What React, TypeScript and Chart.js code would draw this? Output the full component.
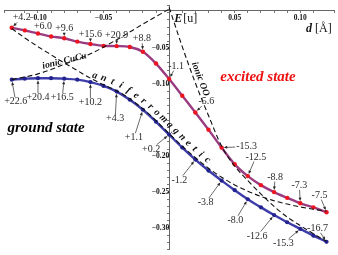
import React, { useEffect, useRef } from 'react';
import { Chart, registerables } from 'chart.js';

Chart.register(...registerables);

// ---- data ----
const dGrid = [-0.12, -0.11, -0.10, -0.09, -0.08, -0.07, -0.06, -0.05, -0.04, -0.03, -0.02, -0.01, 0, 0.01, 0.02, 0.03, 0.04, 0.05, 0.06, 0.07, 0.08, 0.09, 0.10, 0.11, 0.12];

const excitedE = [-0.0211, -0.0247, -0.0291, -0.0331, -0.0357, -0.0403, -0.0437, -0.0462, -0.0466, -0.0478, -0.0545, -0.0709, -0.0925, -0.1157, -0.139, -0.163, -0.188, -0.2113, -0.2277, -0.2403, -0.25, -0.258, -0.2656, -0.2713, -0.278];

const groundE = [-0.0933, -0.092, -0.0913, -0.0913, -0.092, -0.0933, -0.0967, -0.102, -0.11, -0.1213, -0.1353, -0.152, -0.17, -0.188, -0.2047, -0.22, -0.234, -0.2473, -0.26, -0.2713, -0.282, -0.292, -0.3013, -0.3107, -0.3193];

const afmE = [-0.022, -0.0353, -0.0473, -0.0587, -0.07, -0.0807, -0.0913, -0.1005, -0.1088, -0.12, -0.134, -0.1505, -0.1685, -0.186, -0.202, -0.2167, -0.2293, -0.24, -0.2487, -0.256, -0.262, -0.2667, -0.2707, -0.274, -0.2767];

const cucuD = [-0.12, -0.10, -0.08, -0.06, -0.04, -0.02, 0.0];
const cucuE = [-0.0933, -0.0853, -0.072, -0.0573, -0.0377, -0.016, 0.005];

const ooD = [0.0, 0.01, 0.02, 0.03, 0.04, 0.05, 0.06, 0.07, 0.08, 0.09, 0.10, 0.11, 0.12];
const ooE = [0.0073, -0.0473, -0.098, -0.1433, -0.186, -0.214, -0.234, -0.2527, -0.27, -0.2847, -0.2967, -0.308, -0.3187];

const labelIdx = [0, 2, 4, 6, 8, 10, 12, 14, 16, 18, 20, 22, 24];
const excitedLabels = ['+4.2', '+6.0', '+9.6', '+15.6', '+20.9', '+8.8', '-1.1', '-5.6', '-15.3', '-12.5', '-8.8', '-7.3', '-7.5'];
const groundLabels = ['+22.6', '+20.4', '+16.5', '+10.2', '+4.3', '+1.1', '+0.2', '-1.2', '-3.8', '-8.0', '-12.6', '-15.3', '-16.7'];

const xTickLabels = ['-0.10', '-0.05', '0.05', '0.10'];
const yTickLabels = ['-0.05', '-0.10', '-0.20', '-0.25', '-0.30'];

// ---- layout of annotation texts (pixel offsets from their point) ----
const excitedOffsets = [[10, -10], [5, -7], [0, -10], [0, -10], [0, -11], [-1, -13], [7, -13], [11, -11], [25, -1], [8, -19], [1, -15], [-1, -18], [-7, -17]];
const groundOffsets = [[4, 22], [0, 19.5], [-2, 19], [0, 20.5], [-1.5, 27], [-9, 28], [-18, 14.5], [-16, 20.5], [-16, 22], [-12.5, 21], [-17, 21], [-17, 14.5], [-9, -13.5]];

const SERIF = '"Liberation Serif", "Times New Roman", "DejaVu Serif", serif';

type Pt = { x: number; y: number };

function along(pts: Pt[], s: number) {
  let acc = 0;
  for (let i = 0; i < pts.length - 1; i++) {
    const a = pts[i], b = pts[i + 1];
    const L = Math.hypot(b.x - a.x, b.y - a.y);
    if (acc + L >= s || i === pts.length - 2) {
      const t = L > 0 ? (s - acc) / L : 0;
      return { x: a.x + (b.x - a.x) * t, y: a.y + (b.y - a.y) * t };
    }
    acc += L;
  }
  return { x: pts[0].x, y: pts[0].y };
}

function arcAtX(pts: Pt[], x: number) {
  let acc = 0;
  for (let i = 0; i < pts.length - 1; i++) {
    const a = pts[i], b = pts[i + 1];
    const L = Math.hypot(b.x - a.x, b.y - a.y);
    if (x <= b.x) {
      const t = (x - a.x) / (b.x - a.x);
      return acc + L * t;
    }
    acc += L;
  }
  return acc;
}

function frameAt(pts: Pt[], s: number, h = 5) {
  const p = along(pts, s);
  const a = along(pts, s - h);
  const b = along(pts, s + h);
  const L = Math.hypot(b.x - a.x, b.y - a.y) || 1;
  return { x: p.x, y: p.y, tx: (b.x - a.x) / L, ty: (b.y - a.y) / L };
}

function drawArrow(ctx: CanvasRenderingContext2D, x0: number, y0: number, x1: number, y1: number) {
  const len = Math.hypot(x1 - x0, y1 - y0);
  if (len < 2.5) return;
  const c = (x1 - x0) / len, s = (y1 - y0) / len;
  ctx.beginPath();
  ctx.moveTo(x0, y0);
  ctx.lineTo(x1 - c * 2, y1 - s * 2);
  ctx.stroke();
  const h = 3.4, w = 1.5;
  ctx.beginPath();
  ctx.moveTo(x1, y1);
  ctx.lineTo(x1 - h * c + w * s, y1 - h * s - w * c);
  ctx.lineTo(x1 - h * c - w * s, y1 - h * s + w * c);
  ctx.closePath();
  ctx.fill();
}

function pointerLabels(ctx: CanvasRenderingContext2D, pts: Pt[], texts: string[], offs: number[][]) {
  ctx.font = `10px ${SERIF}`;
  ctx.textAlign = 'center';
  ctx.textBaseline = 'middle';
  ctx.fillStyle = '#2a2a2a';
  ctx.strokeStyle = '#2a2a2a';
  ctx.lineWidth = 0.7;
  texts.forEach((t, k) => {
    const p = pts[labelIdx[k]];
    const cx = p.x + offs[k][0], cy = p.y + offs[k][1];
    ctx.fillText(t, cx, cy);
    const hw = ctx.measureText(t).width / 2 + 1, hh = 4.5;
    const vx = p.x - cx, vy = p.y - cy;
    const tt = Math.min(Math.abs(vx) > 1e-6 ? hw / Math.abs(vx) : 1e9, Math.abs(vy) > 1e-6 ? hh / Math.abs(vy) : 1e9);
    if (tt >= 1) return;
    const sx = cx + vx * tt, sy = cy + vy * tt;
    const L = Math.hypot(vx, vy);
    drawArrow(ctx, sx, sy, p.x - (vx / L) * 2.2, p.y - (vy / L) * 2.2);
  });
}

const annotPlugin = {
  id: 'annot',
  afterDatasetsDraw(chart: any) {
    const ctx: CanvasRenderingContext2D = chart.ctx;
    const xs = chart.scales.x;
    const pix = (i: number): Pt[] => chart.getDatasetMeta(i).data.map((p: any) => ({ x: p.x, y: p.y }));
    const cucuPts = pix(0), ooPts = pix(2), exPts = pix(3), grPts = pix(4);
    ctx.save();

    pointerLabels(ctx, exPts, excitedLabels, excitedOffsets);
    pointerLabels(ctx, grPts, groundLabels, groundOffsets);

    // antiferromagnetic along the ground-state curve
    ctx.font = `bold italic 10px ${SERIF}`;
    ctx.fillStyle = '#111';
    ctx.textAlign = 'center';
    ctx.textBaseline = 'middle';
    const word = 'antiferromagnetic';
    const s0 = arcAtX(grPts, xs.getPixelForValue(-0.058));
    for (let i = 0; i < word.length; i++) {
      const f = frameAt(grPts, s0 + i * 8.7, 7);
      const off = 7.5;
      const px = f.x + f.ty * off, py = f.y - f.tx * off;
      ctx.save();
      ctx.translate(px, py);
      ctx.rotate(Math.atan2(f.ty, f.tx));
      ctx.fillText(word[i], 0, 0);
      ctx.restore();
    }

    // ionic CuCu
    ctx.font = `bold italic 9.5px ${SERIF}`;
    {
      const s = arcAtX(cucuPts, xs.getPixelForValue(-0.079));
      const f = frameAt(cucuPts, s, 14);
      ctx.save();
      ctx.translate(f.x + f.ty * 3, f.y - f.tx * 3);
      ctx.rotate(Math.atan2(f.ty, f.tx) * 0.65);
      ctx.fillText('ionic CuCu', 0, 0);
      ctx.restore();
    }
    // ionic OO
    {
      const s = arcAtX(ooPts, xs.getPixelForValue(0.0195));
      const f = frameAt(ooPts, s, 8);
      ctx.save();
      ctx.translate(f.x + f.ty * 6, f.y - f.tx * 6);
      ctx.rotate(Math.atan2(f.ty, f.tx));
      ctx.fillText('ionic OO', 0, 0);
      ctx.restore();
    }

    // state names
    ctx.font = `bold italic 15px ${SERIF}`;
    ctx.fillStyle = '#ee1111';
    ctx.fillText('excited state', 258, 77);
    ctx.fillStyle = '#000';
    ctx.fillText('ground state', 46, 128);

    // axis titles
    ctx.textAlign = 'left';
    ctx.textBaseline = 'alphabetic';
    const x0 = xs.getPixelForValue(0);
    ctx.fillStyle = '#111';
    ctx.font = `bold italic 12px ${SERIF}`;
    ctx.fillText('E', x0 + 5, 22);
    let w = ctx.measureText('E').width;
    ctx.font = `12px ${SERIF}`;
    ctx.fillText('[u]', x0 + 5 + w + 1, 22);
    ctx.font = `bold italic 12px ${SERIF}`;
    ctx.fillText('d', 306, 32);
    w = ctx.measureText('d').width;
    ctx.font = `12px ${SERIF}`;
    ctx.fillText(' [Å]', 306 + w, 32);

    ctx.restore();
  },
};

const tickLabel = (list: string[]) => (v: any) => {
  const s = (Math.round(Number(v) * 100) / 100).toFixed(2);
  return list.includes(s) ? s.replace('-', '\u2212') : '';
};

export default function App() {
  const ref = useRef<HTMLCanvasElement | null>(null);
  useEffect(() => {
    if (!ref.current) return;
    const pts = (xsv: number[], ysv: number[]) => xsv.map((x, i) => ({ x, y: ysv[i] }));
    const dashed = {
      borderColor: '#111',
      borderWidth: 1.1,
      borderDash: [5, 3],
      pointRadius: 0,
      cubicInterpolationMode: 'monotone' as const,
      fill: false,
    };
    const chart = new Chart(ref.current, {
      type: 'line',
      data: {
        datasets: [
          { ...dashed, label: 'ionic CuCu', data: pts(cucuD, cucuE) },
          { ...dashed, label: 'antiferromagnetic', data: pts(dGrid, afmE) },
          { ...dashed, label: 'ionic OO', data: pts(ooD, ooE) },
          {
            label: 'excited state',
            data: pts(dGrid, excitedE),
            borderColor: '#9a3a80',
            borderWidth: 2.4,
            pointRadius: 2.2,
            pointBorderWidth: 0,
            pointBackgroundColor: '#ee1520',
            cubicInterpolationMode: 'monotone',
            fill: false,
          },
          {
            label: 'ground state',
            data: pts(dGrid, groundE),
            borderColor: '#3c3caa',
            borderWidth: 2.4,
            pointRadius: 2.1,
            pointBorderWidth: 0,
            pointBackgroundColor: '#23238f',
            cubicInterpolationMode: 'monotone',
            fill: false,
          },
        ],
      },
      options: {
        animation: false,
        responsive: false,
        devicePixelRatio: 1,
        events: [],
        layout: { padding: 0 },
        plugins: { legend: { display: false }, tooltip: { enabled: false } },
        scales: {
          x: {
            type: 'linear',
            min: -0.1259,
            max: 0.1257,
            position: { y: 0.0033 } as any,
            afterFit: (s: any) => { s.height = 0; },
            grid: { drawOnChartArea: false, drawTicks: true, tickLength: 2, color: '#777' },
            border: { color: '#666', width: 1 },
            ticks: {
              stepSize: 0.01,
              autoSkip: false,
              maxRotation: 0,
              padding: 1,
              color: '#111',
              font: { family: SERIF, size: 7.5, weight: 'bold' },
              callback: tickLabel(xTickLabels),
            },
          },
          y: {
            type: 'linear',
            min: -0.33,
            max: 0.01,
            position: { x: 0 } as any,
            afterFit: (s: any) => { s.width = 0; },
            grid: { drawOnChartArea: false, drawTicks: true, tickLength: 2, color: '#777' },
            border: { color: '#666', width: 1 },
            ticks: {
              stepSize: 0.01,
              autoSkip: false,
              padding: 1,
              color: '#111',
              font: { family: SERIF, size: 7.5, weight: 'bold' },
              callback: tickLabel(yTickLabels),
            },
          },
        },
      },
      plugins: [annotPlugin],
    });
    return () => chart.destroy();
  }, []);
  return (
    <div style={{ position: 'absolute', left: 0, top: 0, width: 338, height: 255, background: '#fff' }}>
      <canvas ref={ref} width={338} height={255} />
    </div>
  );
}
